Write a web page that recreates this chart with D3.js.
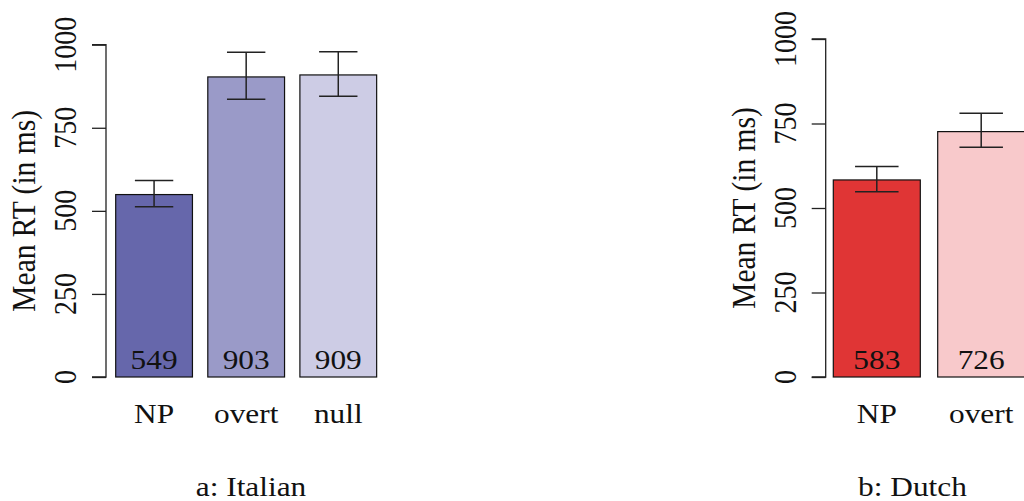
<!DOCTYPE html>
<html>
<head>
<meta charset="utf-8">
<script src="https://cdn.jsdelivr.net/npm/d3@7"></script>
<style>
  html, body { margin: 0; padding: 0; background: #fff; }
  svg { display: block; }
  text { fill: #111; }
</style>
</head>
<body>
<svg id="chart" width="1024" height="501"></svg>
<script>
(function () {
  'use strict';

  // ── Data ─────────────────────────────────────────────────────────────────
  const italianCats  = ['NP', 'overt', 'null'];
  const italianMeans = [549, 903, 909];
  const italianLow   = [512, 836, 845];
  const italianHigh  = [591, 977, 979];
  const italianFill  = ['#6667ab', '#9a9ac8', '#cdcce5'];

  const dutchCats  = ['NP', 'overt'];
  const dutchMeans = [583, 726];
  const dutchLow   = [548, 680];
  const dutchHigh  = [623, 780];
  const dutchFill  = ['#e03535', '#f8c9cb'];

  const yTicks = [0, 250, 500, 750, 1000];

  const STRETCH = 1.12;   // source picture is a bit wider than tall
  const FONT = 28;
  const FAMILY = "'Liberation Serif', 'Times New Roman', Times, serif";
  const svg = d3.select('#chart');

  // ── Panels ───────────────────────────────────────────────────────────────
  drawPanel({
    cats: italianCats, means: italianMeans, low: italianLow, high: italianHigh, fill: italianFill,
    axisX: 106, y0: 377, y1000: 44.7, barX0: 115.7, step: 92.1,
    tickLabelX: 76, titleX: 35, caption: 'a: Italian', captionX: 251
  });
  drawPanel({
    cats: dutchCats, means: dutchMeans, low: dutchLow, high: dutchHigh, fill: dutchFill,
    axisX: 825.7, y0: 377, y1000: 39, barX0: 833.3, step: 104.4,
    tickLabelX: 795.5, titleX: 755, caption: 'b: Dutch', captionX: 912.5
  });

  function label(g, txt, x, y, rotate, size) {
    return g.append('text')
      .attr('transform', `translate(${x},${y}) scale(${STRETCH},1)` + (rotate ? ' rotate(-90)' : ''))
      .attr('text-anchor', 'middle')
      .attr('font-family', FAMILY)
      .attr('font-size', size || FONT)
      .text(txt);
  }

  function drawPanel(p) {
    const g = svg.append('g');
    const y = d3.scaleLinear().domain([0, 1000]).range([p.y0, p.y1000]);
    const pad = 0.2 / 1.2;
    const x = d3.scaleBand().domain(p.cats)
      .range([p.barX0, p.barX0 + p.cats.length * p.step - p.step * pad])
      .paddingInner(pad).paddingOuter(0);
    const bw = x.bandwidth();

    // y axis
    const axis = g.append('g').attr('transform', `translate(${p.axisX},0)`)
      .call(d3.axisLeft(y).tickValues(yTicks).tickSize(14).tickFormat(''));
    axis.select('.domain').attr('stroke', '#222').attr('stroke-width', 1.3)
      .attr('d', `M-14,${y(0)}H0V${y(1000)}H-14`);
    axis.selectAll('.tick line').attr('stroke', '#222').attr('stroke-width', 1.3);

    yTicks.forEach(t => label(g, String(t), p.tickLabelX, y(t), true));
    label(g, 'Mean RT (in ms)', p.titleX, (y(0) + y(1000)) / 2, true, 29.5);

    // bars
    g.selectAll('rect.bar').data(p.cats).join('rect')
      .attr('class', 'bar')
      .attr('x', d => x(d))
      .attr('y', (d, i) => y(p.means[i]))
      .attr('width', bw)
      .attr('height', (d, i) => y(0) - y(p.means[i]))
      .attr('fill', (d, i) => p.fill[i])
      .attr('stroke', '#111').attr('stroke-width', 1.2);

    // error bars
    p.cats.forEach((c, i) => {
      const cx = x(c) + bw / 2, hw = bw / 4;
      const eg = g.append('g').attr('stroke', '#222').attr('stroke-width', 1.5).attr('fill', 'none');
      eg.append('line').attr('x1', cx).attr('x2', cx).attr('y1', y(p.low[i])).attr('y2', y(p.high[i]));
      eg.append('line').attr('x1', cx - hw).attr('x2', cx + hw).attr('y1', y(p.low[i])).attr('y2', y(p.low[i]));
      eg.append('line').attr('x1', cx - hw).attr('x2', cx + hw).attr('y1', y(p.high[i])).attr('y2', y(p.high[i]));
      label(g, String(p.means[i]), cx, y(0) - 8, false);
      label(g, c, cx, 423, false);
    });

    label(g, p.caption, p.captionX, 496, false);
  }
})();
</script>
</body>
</html>
